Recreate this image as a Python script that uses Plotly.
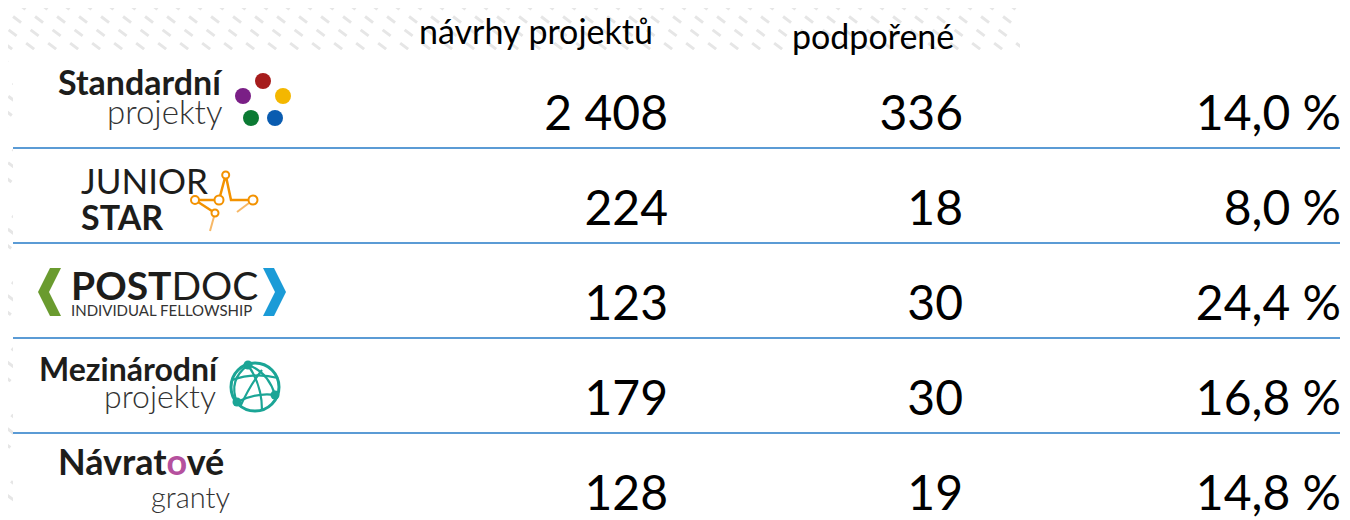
import plotly.graph_objects as go

# ---------------- data ----------------
programmes = ["Standardní projekty", "JUNIOR STAR", "POSTDOC INDIVIDUAL FELLOWSHIP",
              "Mezinárodní projekty", "Návratové granty"]
headers = ["návrhy projektů", "podpořené"]
submitted = [2408, 224, 123, 179, 128]
supported = [336, 18, 30, 30, 19]
success_rate = [14.0, 8.0, 24.4, 16.8, 14.8]

# ---------------- layout constants ----------------
W, H = 1350, 520
OFF = 8                         # page body margin
ROW0, ROWH = 118, 95            # pixel centre of first row of numbers, row pitch
COL_RIGHT = [668, 963, 1341]    # right edges of numeric columns
FONT = "Lato, 'Open Sans', sans-serif"
BLUE = "#5B9BD5"

def fmt_int(v):
    return f"{v:,}".replace(",", " ")

def fmt_pct(v):
    return f"{v:.1f}".replace(".", ",") + " %"

rows = list(range(len(programmes)))
y_top = (OFF - ROW0) / ROWH
y_bot = (H - ROW0) / ROWH

fig = go.Figure()

columns = [
    [fmt_int(v) for v in submitted],
    [fmt_int(v) for v in supported],
    [fmt_pct(v) for v in success_rate],
]
for ci, texts in enumerate(columns):
    fig.add_trace(go.Scatter(
        x=[COL_RIGHT[ci]] * len(rows), y=rows, mode="text", text=texts,
        textposition="middle left", hovertext=programmes, hoverinfo="text",
        textfont=dict(family=FONT, size=48, color="#000000"),
        showlegend=False, cliponaxis=False,
    ))

shapes = []
# background dashed pattern (decoration)
for k in range(-30, 70):
    x0 = k * 22
    shapes.append(dict(type="line", xref="x", yref="y2", x0=x0, y0=-10, x1=x0 + 700, y1=520,
                       line=dict(color="#E6E6E6", width=3, dash="10px,12px"), layer="below"))
# white panels covering pattern
shapes.append(dict(type="rect", xref="x", yref="y2", x0=13, x1=1360, y0=50, y1=530,
                   fillcolor="white", line=dict(width=0), layer="below"))
shapes.append(dict(type="rect", xref="x", yref="y2", x0=1020, x1=1360, y0=-10, y1=60,
                   fillcolor="white", line=dict(width=0), layer="below"))
# separators
for i in rows[:-1]:
    yy = i + 30 / ROWH
    shapes.append(dict(type="line", xref="x", yref="y", x0=13, x1=1340, y0=yy, y1=yy,
                       line=dict(color=BLUE, width=2)))

# ---- logo: Standardní projekty dots
for cx, cy, col in [(263, 81, "#A61C1C"), (243, 96, "#7A1F86"), (283, 96, "#F4B700"),
                    (251, 118, "#0B7A33"), (275, 118, "#0A5CB0")]:
    shapes.append(dict(type="circle", xref="x", yref="y2", x0=cx - 8, x1=cx + 8, y0=cy - 8, y1=cy + 8,
                       fillcolor=col, line=dict(width=0)))

# ---- logo: JUNIOR STAR
OR = "#F39200"
shapes.append(dict(type="path", xref="x", yref="y2",
                   path="M195,200 L219,200 L225.7,175 L231,200 L253,200",
                   line=dict(color=OR, width=2.5)))
shapes.append(dict(type="path", xref="x", yref="y2", path="M195,200 L215,213",
                   line=dict(color=OR, width=2.5)))
shapes.append(dict(type="path", xref="x", yref="y2", path="M215,213 L210,231",
                   line=dict(color="#F7B867", width=2)))
shapes.append(dict(type="path", xref="x", yref="y2", path="M253,200 L237,212",
                   line=dict(color="#F7B867", width=2)))
for cx, cy, r in [(225.7, 175, 3.5), (195, 200, 4), (219, 200, 4.5), (253, 200, 4.5), (215, 213, 3.5)]:
    shapes.append(dict(type="circle", xref="x", yref="y2", x0=cx - r, x1=cx + r, y0=cy - r, y1=cy + r,
                       fillcolor="white", line=dict(color=OR, width=2)))

# ---- logo: POSTDOC chevrons
shapes.append(dict(type="path", xref="x", yref="y2",
                   path="M50,268 L61,268 L49,292 L61,316 L50,316 L38,292 Z",
                   fillcolor="#6A9B2F", line=dict(width=0)))
shapes.append(dict(type="path", xref="x", yref="y2",
                   path="M263,268 L274,268 L286,292 L274,316 L263,316 L275,292 Z",
                   fillcolor="#1B9BD7", line=dict(width=0)))

# ---- logo: Mezinárodní globe
TEAL = "#1BA596"
shapes.append(dict(type="circle", xref="x", yref="y2", x0=231, x1=279, y0=363, y1=411,
                   line=dict(color=TEAL, width=3)))
for p in ["M248,365 Q228,380 237,402", "M248,365 Q268,372 275,395", "M237,402 Q258,392 275,395",
          "M248,365 Q262,385 262,410", "M232,380 Q255,372 278,378", "M240,407 Q250,385 262,370"]:
    shapes.append(dict(type="path", xref="x", yref="y2", path=p, line=dict(color=TEAL, width=2.2)))
for cx, cy, r in [(248, 365, 4.5), (275, 395, 4.5), (237, 402, 4.5)]:
    shapes.append(dict(type="circle", xref="x", yref="y2", x0=cx - r, x1=cx + r, y0=cy - r, y1=cy + r,
                       fillcolor=TEAL, line=dict(width=0)))

annotations = []

def note(x, y, text, size, anchor="left", weight=400, color="#1D1D1B", family=FONT):
    annotations.append(dict(x=x, y=y, xref="x", yref="y2", text=text, showarrow=False,
                            xanchor=anchor, yanchor="middle", borderpad=0,
                            font=dict(family=family, size=size, color=color, weight=weight)))

# headers
note(536, 30, headers[0], 34, anchor="center", color="#000000")
note(873, 35, headers[1], 34, anchor="center", color="#000000")

# logo texts
note(57, 81, "Standardní", 34, weight=700)
note(223, 111, "projekty", 33, anchor="right", weight=300, color="#333333")
note(80, 180, "JUNIOR", 35)
note(80, 216, "STAR", 34, weight=700)
note(70, 285, "<b>POST</b>DOC", 39)
note(70, 310, "INDIVIDUAL FELLOWSHIP", 15, color="#333333")
note(38, 368, "Mezinárodní", 32, weight=700)
note(217, 395, "projekty", 32, anchor="right", weight=300, color="#333333")
note(57, 461, "Návrat<span style='color:#B5519E'>o</span>vé", 36, weight=700)
note(231, 496, "granty", 29, anchor="right", weight=300, color="#333333")

fig.update_layout(
    width=W - OFF, height=H - OFF,
    margin=dict(l=0, r=0, t=0, b=0),
    paper_bgcolor="white", plot_bgcolor="white",
    xaxis=dict(range=[OFF, W], visible=False, fixedrange=True),
    yaxis=dict(range=[y_bot, y_top], visible=False, fixedrange=True),
    yaxis2=dict(range=[H, OFF], visible=False, overlaying="y", fixedrange=True),
    shapes=shapes, annotations=annotations,
    showlegend=False,
)

fig.write_html("out.html")
